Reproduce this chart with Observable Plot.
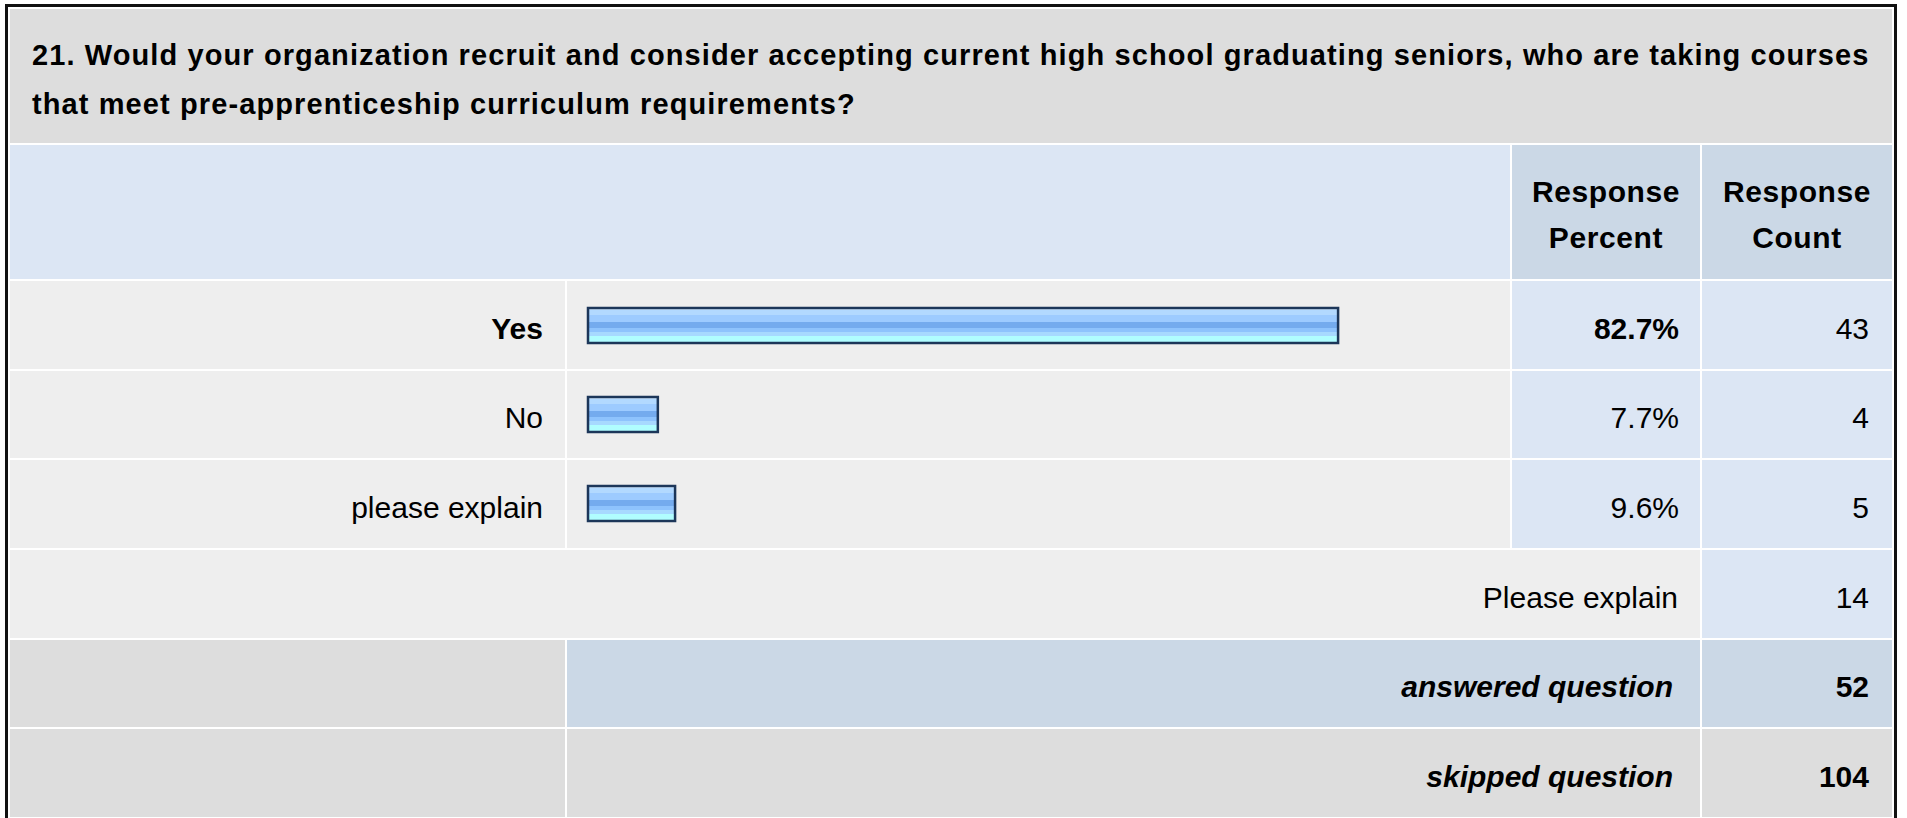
<!DOCTYPE html>
<html>
<head>
<meta charset="utf-8">
<script src="https://cdn.jsdelivr.net/npm/d3@7"></script>
<script src="https://cdn.jsdelivr.net/npm/@observablehq/plot@0.6"></script>
<style>
html, body { margin: 0; padding: 0; background: #fff; width: 1907px; height: 818px; overflow: hidden; }
body { font-family: "Liberation Sans", Arial, Helvetica, sans-serif; color: #000; position: relative; }
#frame { position: absolute; left: 5px; top: 4px; width: 1886px; height: 900px; border: 3px solid #111; background: #fff; }
#grid { position: absolute; left: 2px; top: 2px; display: grid;
  grid-template-columns: 555px 943px 188px 190px;
  grid-template-rows: 134px 134px 88px 87px 88px 88px 87px 88px;
  gap: 2px; }
.c { box-sizing: border-box; display: flex; align-items: center; justify-content: flex-end; font-size: 30px; padding-top: 7px; white-space: nowrap; }
.title { grid-column: 1 / 5; background: #dddddd; font-weight: bold; font-size: 29px; letter-spacing: 1.1px; line-height: 49px; padding: 22px 0 0 22px; align-items: flex-start; justify-content: flex-start; white-space: nowrap; }
.hdrblank { grid-column: 1 / 3; background: #dce6f4; }
.hdr { background: #cbd8e6; font-weight: bold; line-height: 46px; text-align: center; justify-content: center; align-items: flex-start; padding-top: 24px; letter-spacing: 0.6px; }
.lab { background: #eeeeee; padding-right: 22px; }
.barcell { background: #eeeeee; }
.pct { background: #dce6f4; padding-right: 21px; }
.cnt { background: #dce6f4; padding-right: 23px; }
.b { font-weight: bold; }
.bi { font-weight: bold; font-style: italic; }
#bars { position: absolute; left: 567px; top: 281px; }
</style>
</head>
<body>
<div id="frame"><div id="grid"></div></div>
<div id="bars"></div>
<script>
// ---- data ----
const questionTitle = ["21. Would your organization recruit and consider accepting current high school graduating seniors, who are taking courses", "that meet pre-apprenticeship curriculum requirements?"];
const columnHeaders = [["Response", "Percent"], ["Response", "Count"]];
const answers = ["Yes", "No", "please explain"];
const percents = [82.7, 7.7, 9.6];
const counts = [43, 4, 5];
const boldAnswer = "Yes";
const explainLabel = "Please explain";
const explainCount = 14;
const summaryLabels = ["answered question", "skipped question"];
const summaryCounts = [52, 104];

// ---- table layout (HTML) ----
const grid = document.getElementById("grid");
function cell(cls, html, style) {
  const d = document.createElement("div");
  d.className = "c " + cls;
  d.innerHTML = html;
  if (style) d.setAttribute("style", style);
  grid.appendChild(d);
  return d;
}
cell("title", questionTitle.join("<br>"));
cell("hdrblank", "");
columnHeaders.forEach(h => cell("hdr", h.join("<br>")));
answers.forEach((a, i) => {
  const isBold = a === boldAnswer;
  cell("lab" + (isBold ? " b" : ""), a);
  cell("barcell", "");
  cell("pct" + (isBold ? " b" : ""), percents[i].toFixed(1) + "%");
  cell("cnt", String(counts[i]));
});
cell("lab", explainLabel, "grid-column: 1 / 4;");
cell("cnt", String(explainCount));
cell("", "", "background:#dddddd;");
cell("bi", summaryLabels[0], "grid-column: 2 / 4; background:#cbd8e6; padding-right:27px;");
cell("b", String(summaryCounts[0]), "background:#cbd8e6; padding-right:23px;");
cell("", "", "background:#dddddd;");
cell("bi", summaryLabels[1], "grid-column: 2 / 4; background:#dddddd; padding-right:27px;");
cell("b", String(summaryCounts[1]), "background:#dddddd; padding-right:23px;");

// ---- bars (Observable Plot) ----
const rows = answers.map((a, i) => ({answer: a, pct: percents[i]}));
const chart = Plot.plot({
  width: 943,
  height: 267,
  margin: 0,
  style: {background: "transparent", overflow: "visible"},
  x: {domain: [0, 100], range: [21, 928], axis: null},
  y: {domain: answers, range: [0, 267], paddingInner: 0.61, paddingOuter: 0.305, axis: null},
  marks: [
    Plot.barX(rows, {x: "pct", y: "answer", fill: "url(#barGrad)", stroke: "#1c3659", strokeWidth: 2.5})
  ]
});
const ns = "http://www.w3.org/2000/svg";
const defs = document.createElementNS(ns, "defs");
const grad = document.createElementNS(ns, "linearGradient");
grad.setAttribute("id", "barGrad");
grad.setAttribute("x1", "0"); grad.setAttribute("y1", "0");
grad.setAttribute("x2", "0"); grad.setAttribute("y2", "1");
const stripes = [
  [0.00, 0.07, "#cbe6ff"],
  [0.07, 0.19, "#b2d9ff"],
  [0.19, 0.40, "#9dcbff"],
  [0.40, 0.58, "#74abee"],
  [0.58, 0.69, "#8ec3fd"],
  [0.69, 0.80, "#a7d9ff"],
  [0.80, 1.00, "#b0fdff"]
];
stripes.forEach(([a, b, c]) => {
  [a, b].forEach(o => {
    const s = document.createElementNS(ns, "stop");
    s.setAttribute("offset", o);
    s.setAttribute("stop-color", c);
    grad.appendChild(s);
  });
});
defs.appendChild(grad);
chart.insertBefore(defs, chart.firstChild);
document.getElementById("bars").appendChild(chart);
</script>
</body>
</html>
